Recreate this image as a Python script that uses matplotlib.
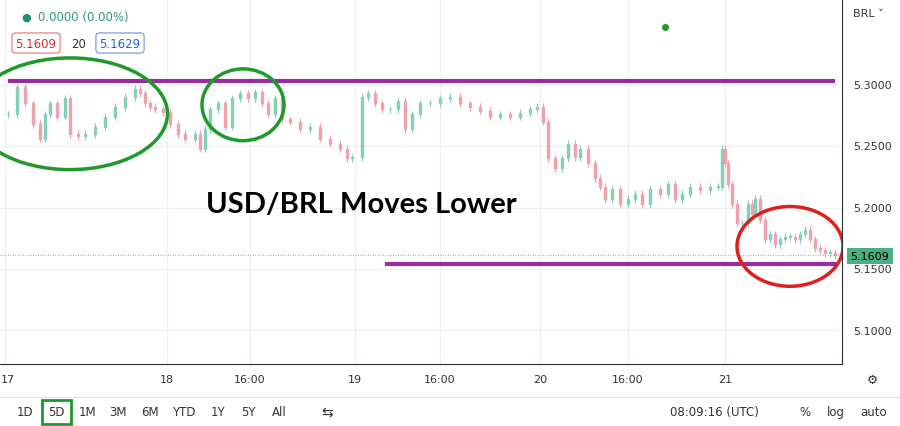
import matplotlib
matplotlib.use("Agg")
import matplotlib.pyplot as plt
from matplotlib.patches import Ellipse, Rectangle

# bar positions (chart time units) and closes
t = [8,17,25,33,40,45,50,57,65,70,78,85,95,105,115,125,135,140,145,150,155,163,170,178,185,195,200,205,210,218,225,232,240,248,255,262,268,275,282,290,300,310,320,330,340,347,352,
     362,368,375,382,390,398,405,412,420,430,440,450,460,470,480,490,500,510,520,530,537,543,
     548,555,562,568,575,580,588,595,600,605,612,620,628,635,642,650,660,668,675,682,690,700,710,718,
     722,725,728,732,737,742,748,752,755,760,765,770,775,780,785,790,795,800,805,810,815,820,825,830,835]
close = [5.276,5.298,5.285,5.268,5.256,5.276,5.285,5.274,5.289,5.260,5.258,5.260,5.266,5.274,5.282,5.290,5.297,5.293,5.285,5.282,5.280,5.278,5.268,5.260,5.256,5.260,5.248,5.264,5.280,5.285,5.266,5.289,5.293,5.289,5.294,5.285,5.276,5.289,5.272,5.270,5.264,5.266,5.256,5.252,5.248,5.240,5.241,
         5.290,5.293,5.285,5.280,5.280,5.287,5.264,5.276,5.285,5.285,5.289,5.290,5.285,5.282,5.279,5.274,5.276,5.274,5.277,5.280,5.282,5.270,
         5.240,5.232,5.240,5.252,5.241,5.248,5.236,5.224,5.217,5.207,5.215,5.203,5.207,5.211,5.203,5.215,5.211,5.219,5.207,5.211,5.217,5.214,5.217,5.217,
         5.248,5.236,5.219,5.203,5.187,5.187,5.203,5.195,5.207,5.190,5.174,5.178,5.170,5.174,5.176,5.176,5.174,5.178,5.182,5.174,5.167,5.165,5.163,5.163,5.161]
day_ticks = [5,167,250,355,440,540,628,725]
day_labels = ["17","18","16:00","19","16:00","20","16:00","21"]
price_ticks = [5.10,5.15,5.20,5.25,5.30]
last_price = 5.1609
resistance = 5.303
support = 5.154

W, H = 900, 427
fig = plt.figure(figsize=(9, 4.27), dpi=100)
ax = fig.add_axes([0, (H-365)/H, 842/W, 365/H])
ax.set_xlim(0, 842)
ax.set_ylim(5.0724, 5.370)
for s in ax.spines.values():
    s.set_visible(False)
ax.spines['bottom'].set_visible(True); ax.spines['bottom'].set_color('#2a2e39')
ax.spines['right'].set_visible(True); ax.spines['right'].set_color('#2a2e39')
ax.set_xticks([]); ax.set_yticks([])
for x in day_ticks:
    ax.axvline(x, color='#eef1f6', lw=1, zorder=0)
for p in price_ticks:
    ax.axhline(p, color='#eef1f6', lw=1, zorder=0)

up, dn = '#86cfb9', '#f0a2ab'
prev = close[0]
for x, c in zip(t, close):
    o = prev
    col = up if c >= o else dn
    lo, hi = min(o, c), max(o, c)
    ax.vlines(x, lo - 0.003, hi + 0.003, color=col, lw=0.8, zorder=2)
    ax.add_patch(Rectangle((x-1.0, lo), 2, max(hi-lo, 0.0006), color=col, zorder=2))
    prev = c

ax.axhline(last_price, color='#4caf80', lw=0.6, ls=(0, (1, 2)), zorder=1)
ax.hlines(resistance, 8, 835, color='#9c2aa0', lw=3, zorder=3)
ax.hlines(support, 385, 838, color='#9c2aa0', lw=3, zorder=3)

def px2p(y):
    return 5.30 - (y-86)/1230.0
def ell(cx, cy, w, h, col):
    e = Ellipse((cx, px2p(cy)), w, h/1230.0, fill=False, ec=col, lw=2.5, zorder=4)
    ax.add_patch(e)
ell(70, 115, 195, 112, '#1f9a2a')
ell(243, 106, 82, 72, '#1f9a2a')
ell(790, 248, 106, 80, '#dd1f1f')
ax.plot([665], [px2p(28)], 'o', color='#1f9a2a', ms=4, zorder=4)

ax.text(361, px2p(205), "USD/BRL Moves Lower", fontsize=21, fontweight='bold',
        family='Lato', ha='center', va='center', zorder=5)

# header
fig.text(26/W, 1-18/H, "●", color='#1f8f6f', fontsize=8, ha='center', va='center')
fig.text(38/W, 1-18/H, "0.0000 (0.00%)", color='#2e9e75', fontsize=8.5, va='center')
fig.text(36/W, 1-44/H, "5.1609", color='#d32f2f', fontsize=8.5, va='center', ha='center',
         bbox=dict(boxstyle='round,pad=0.3', fc='white', ec='#e57373', lw=0.8))
fig.text(79/W, 1-44/H, "20", color='#333', fontsize=8.5, va='center', ha='center')
fig.text(120/W, 1-44/H, "5.1629", color='#2f5bd3', fontsize=8.5, va='center', ha='center',
         bbox=dict(boxstyle='round,pad=0.3', fc='white', ec='#6f8ee8', lw=0.8))

# right axis
fig.text(853/W, 1-14/H, "BRL ˅", fontsize=8, color='#333', va='center')
for p in price_ticks:
    y = 86 + (5.30 - p)*1230
    fig.text(853/W, 1-y/H, f"{p:.4f}", fontsize=8, color='#333', va='center')
yl = 86 + (5.30 - last_price)*1230
fig.text(870/W, 1-yl/H, f"{last_price:.4f}", fontsize=8, color='black', va='center', ha='center',
         bbox=dict(boxstyle='square,pad=0.3', fc='#4caf80', ec='none'))

# x labels
for x, l in zip(day_ticks, day_labels):
    if l == "17":
        fig.text(1/W, 1-380/H, l, fontsize=8, color='#333', ha='left', va='center')
    else:
        fig.text(x/W, 1-380/H, l, fontsize=8, color='#333', ha='center', va='center')
fig.text(872/W, 1-380/H, "⚙", fontsize=9, color='#333', ha='center', va='center')

# bottom toolbar
items = [("1D",25),("5D",56),("1M",87),("3M",118),("6M",150),("YTD",184),("1Y",218),("5Y",248),("All",279)]
for lab, x in items:
    fig.text(x/W, 1-413/H, lab, fontsize=8.5, color='#333', ha='center', va='center')
fig.add_artist(Rectangle((42/W, 1-425/H), 29/W, 24/H, fill=False, ec='#1f9a2a', lw=2, transform=fig.transFigure))
fig.text(327/W, 1-413/H, "⇆", fontsize=10, color='#333', ha='center', va='center')
fig.text(670/W, 1-413/H, "08:09:16 (UTC)", fontsize=8.5, color='#333', va='center')
fig.text(805/W, 1-413/H, "%", fontsize=8.5, color='#333', ha='center', va='center')
fig.text(836/W, 1-413/H, "log", fontsize=8.5, color='#333', ha='center', va='center')
fig.text(874/W, 1-413/H, "auto", fontsize=8.5, color='#333', ha='center', va='center')
fig.add_artist(plt.Line2D([0, 1], [1-398/H, 1-398/H], color='#e0e3eb', lw=0.8, transform=fig.transFigure))

fig.savefig("out.png", dpi=100)
